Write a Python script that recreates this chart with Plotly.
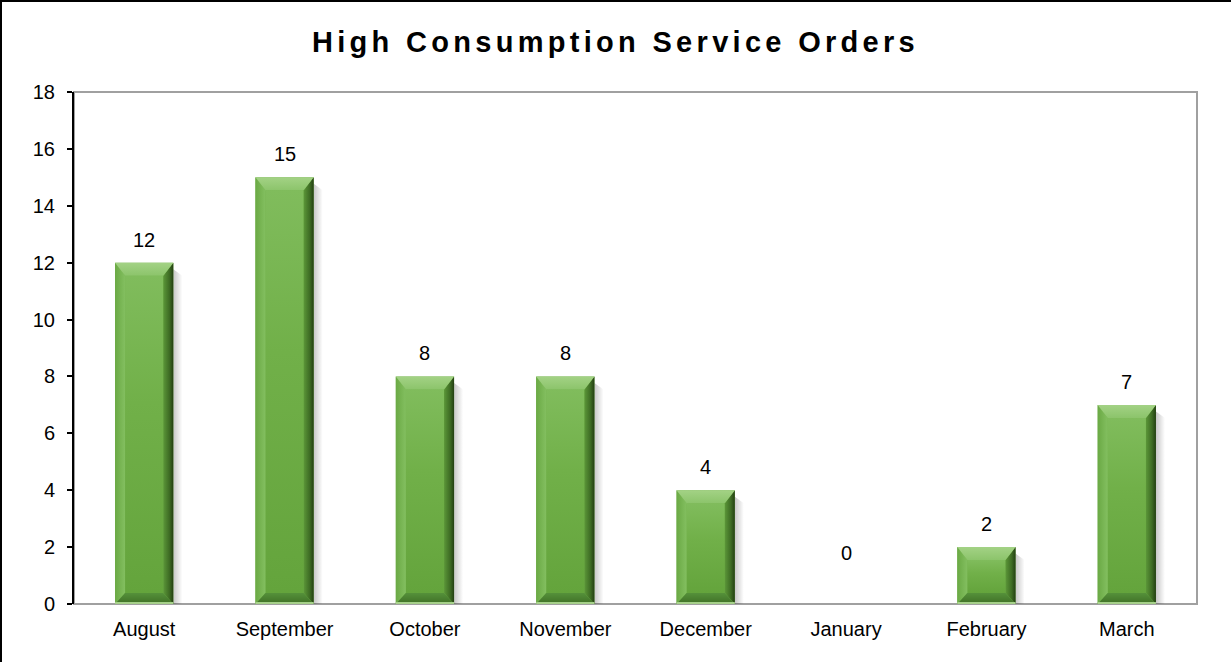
import plotly.graph_objects as go

# ---- data ----
months = ["August", "September", "October", "November", "December", "January", "February", "March"]
orders = [12, 15, 8, 8, 4, 0, 2, 7]
y_ticks = [0, 2, 4, 6, 8, 10, 12, 14, 16, 18]
title_text = "High Consumption Service Orders"

# ---- geometry / style ----
W, H = 1231, 662
ML, MR, MT, MB = 74, 34, 92, 58
PW, PH = W - ML - MR, H - MT - MB
YMAX = 18
N = len(months)
BAR_W = 0.415
UX = PW / N          # px per x unit
UY = PH / YMAX       # px per y unit
SIDE = 10 / UX
TOPB = 13 / UY
BOTB = 11 / UY
FONT = "Liberation Sans, Arial, sans-serif"
FS = 20

xs = list(range(N))
fig = go.Figure()

fig.add_trace(go.Bar(
    x=xs, y=orders, width=BAR_W, marker=dict(color="#6fae47", line=dict(width=0)),
    showlegend=False, hoverinfo="x+y"))


def poly(xv, yv, color=None, grad=None):
    kw = dict(x=xv + [xv[0]], y=yv + [yv[0]], fill="toself", line=dict(width=0),
              mode="lines", hoverinfo="skip", showlegend=False)
    if grad:
        kw["fillgradient"] = grad
    else:
        kw["fillcolor"] = color
    fig.add_trace(go.Scatter(**kw))


for i, v in enumerate(orders):
    if v <= 0:
        continue
    l, r = i - BAR_W / 2, i + BAR_W / 2
    dt = min(TOPB, v / 2)
    db = min(BOTB, v / 2)
    # shadow on the right
    sw = 9 / UX
    poly([r, r + sw, r + sw, r], [0, 0, v - dt, v - dt / 2],
         grad=dict(type="horizontal",
                   colorscale=[[0, "rgba(0,0,0,0.22)"], [1, "rgba(0,0,0,0)"]]))
    # face
    poly([l + SIDE, r - SIDE, r - SIDE, l + SIDE], [db, db, v - dt, v - dt],
         grad=dict(type="vertical",
                   colorscale=[[0, "#64a43c"], [0.6, "#71b049"], [1, "#80bc5c"]]))
    # left bevel
    poly([l, l + SIDE, l + SIDE, l], [0, db, v - dt, v],
         grad=dict(type="horizontal",
                   colorscale=[[0, "#6aa944"], [1, "#83bf60"]]))
    # right bevel
    poly([r, r - SIDE, r - SIDE, r], [0, db, v - dt, v],
         grad=dict(type="horizontal",
                   colorscale=[[0, "#5b9638"], [0.6, "#3e6c24"], [1, "#233f12"]]))
    # bottom bevel
    poly([l, r, r - SIDE, l + SIDE], [0, 0, db, db],
         grad=dict(type="vertical",
                   colorscale=[[0, "#3f6f26"], [1, "#55913a"]]))
    # top bevel
    poly([l, r, r - SIDE, l + SIDE], [v, v, v - dt, v - dt],
         grad=dict(type="vertical",
                   colorscale=[[0, "#8cc46b"], [1, "#a3d285"]]))
    # thin light rim at the base
    poly([l, r, r, l], [0, 0, 2 / UY, 2 / UY], color="#a6d08a")

# value labels above bars (Excel places the zero label higher)
annotations = [
    dict(x=i, y=v, xref="x", yref="y", text=str(v), showarrow=False,
         yanchor="bottom", yshift=(10 if v > 0 else 38),
         font=dict(family=FONT, size=FS, color="#000000"))
    for i, v in enumerate(orders)
]

fx = lambda p: (p - ML) / PW
fy = lambda p: 1 - (p - MT) / PH

shapes = [
    dict(type="rect", xref="paper", yref="paper", x0=0, x1=1, y0=0, y1=1,
         line=dict(color="#a0a0a0", width=2), layer="below"),
    dict(type="line", xref="paper", yref="paper", x0=fx(1), x1=fx(1), y0=fy(H), y1=fy(1),
         line=dict(color="#000000", width=2)),
    dict(type="line", xref="paper", yref="paper", x0=fx(0), x1=fx(W), y0=fy(1), y1=fy(1),
         line=dict(color="#000000", width=2)),
]

fig.update_layout(
    width=W, height=H,
    margin=dict(l=ML, r=MR, t=MT, b=MB),
    paper_bgcolor="white", plot_bgcolor="white",
    font=dict(family=FONT, size=FS, color="#000000"),
    title=dict(text=f"<b>{title_text}</b>", x=0.5, xref="container", xanchor="center",
               y=1 - 42 / H, yref="container", yanchor="middle",
               font=dict(family=FONT, size=29, color="#000000")),
    xaxis=dict(range=[-0.5, N - 0.5], tickmode="array", tickvals=xs, ticktext=months,
               showgrid=False, zeroline=False, showline=False, ticks="",
               ticklabelstandoff=11,
               tickfont=dict(size=FS), fixedrange=True),
    yaxis=dict(range=[0, YMAX], tickmode="array", tickvals=y_ticks,
               showgrid=False, zeroline=False, showline=True, linecolor="#000000", linewidth=2,
               ticks="outside", ticklen=5, tickcolor="#000000", tickwidth=1.5,
               ticklabelstandoff=8,
               tickfont=dict(size=FS), fixedrange=True),
    shapes=shapes,
    annotations=annotations,
    bargap=0.5,
)

post = """
document.body.style.margin='0';
document.body.style.padding='0';
document.querySelectorAll('.gtitle').forEach(function(t){t.style.letterSpacing='4.3px';});
"""

fig.write_html("out.html", post_script=post, config={"displayModeBar": False})
